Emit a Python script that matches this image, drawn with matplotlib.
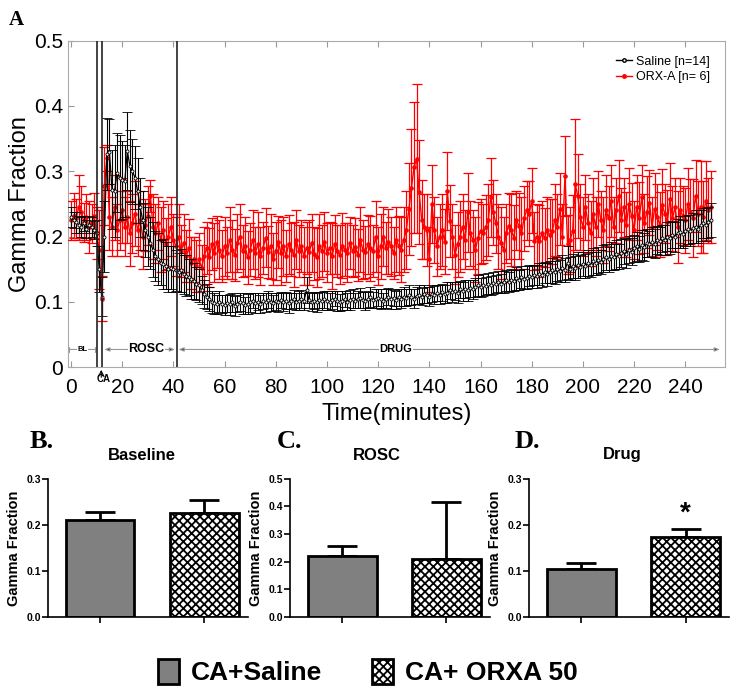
import numpy as np
import matplotlib
matplotlib.use('Agg')
import matplotlib.pyplot as plt
from matplotlib.patches import Patch
from matplotlib.lines import Line2D

plt.rcParams['font.family'] = ['Liberation Sans', 'DejaVu Sans']
plt.rcParams['hatch.linewidth'] = 1.3

# ---- panel A: gamma fraction per minute (0..250) ----
saline_mean = [
    0.230, 0.225, 0.222, 0.218, 0.215, 0.220, 0.212, 0.218, 0.215, 0.210,
    0.205, 0.150, 0.108, 0.200, 0.326, 0.330, 0.272, 0.270, 0.298, 0.290,
    0.287, 0.285, 0.331, 0.308, 0.300, 0.290, 0.270, 0.245, 0.225, 0.210,
    0.200, 0.190, 0.180, 0.170, 0.165, 0.160, 0.158, 0.155, 0.150, 0.152,
    0.150, 0.148, 0.145, 0.148, 0.142, 0.140, 0.138, 0.135, 0.132, 0.128,
    0.125, 0.118, 0.112, 0.108, 0.104, 0.100, 0.098, 0.096, 0.100, 0.097,
    0.095, 0.098, 0.096, 0.099, 0.094, 0.097, 0.100, 0.098, 0.095, 0.097,
    0.099, 0.102, 0.098, 0.100, 0.097, 0.101, 0.099, 0.103, 0.100, 0.098,
    0.101, 0.099, 0.103, 0.100, 0.102, 0.098, 0.101, 0.104, 0.100, 0.102,
    0.104, 0.101, 0.118, 0.103, 0.100, 0.102, 0.099, 0.103, 0.101, 0.104,
    0.102, 0.100, 0.103, 0.105, 0.101, 0.099, 0.102, 0.104, 0.100, 0.103,
    0.105, 0.102, 0.104, 0.106, 0.103, 0.101, 0.104, 0.107, 0.103, 0.105,
    0.106, 0.104, 0.102, 0.105, 0.108, 0.104, 0.106, 0.103, 0.107, 0.105,
    0.108, 0.106, 0.110, 0.107, 0.105, 0.109, 0.111, 0.108, 0.112, 0.110,
    0.108, 0.112, 0.110, 0.113, 0.111, 0.115, 0.112, 0.114, 0.118, 0.115,
    0.117, 0.114, 0.119, 0.116, 0.120, 0.118, 0.121, 0.119, 0.122, 0.125,
    0.122, 0.126, 0.124, 0.128, 0.125, 0.129, 0.127, 0.131, 0.128, 0.130,
    0.133, 0.130, 0.134, 0.132, 0.136, 0.133, 0.138, 0.135, 0.137, 0.140,
    0.138, 0.141, 0.139, 0.143, 0.141, 0.145, 0.142, 0.146, 0.148, 0.145,
    0.150, 0.147, 0.152, 0.149, 0.160, 0.151, 0.155, 0.152, 0.157, 0.154,
    0.158, 0.155, 0.160, 0.157, 0.162, 0.159, 0.164, 0.161, 0.166, 0.168,
    0.165, 0.170, 0.168, 0.173, 0.170, 0.175, 0.178, 0.174, 0.180, 0.177,
    0.182, 0.185, 0.181, 0.187, 0.184, 0.190, 0.188, 0.192, 0.189, 0.195,
    0.193, 0.197, 0.195, 0.200, 0.198, 0.203, 0.200, 0.205, 0.207, 0.204,
    0.208, 0.211, 0.209, 0.213, 0.215, 0.212, 0.217, 0.220, 0.218, 0.222,
    0.225]
saline_err = [
    .015, .012, .016, .013, .015, .012, .014, .013, .015, .014,
    .020, .035, .030, .055, .055, .050, .060, .070, .060, .065,
    .060, .055, .060, .055, .050, .048, .050, .045, .045, .042,
    .045, .040, .042, .038, .040, .035, .038, .036, .035, .033,
    .035, .032, .030, .033, .030, .031, .028, .030, .027, .025,
    .026, .022, .021, .019, .018, .017, .016, .015, .016, .014,
    .015, .013, .016, .014, .015, .013, .014, .016, .013, .015,
    .014, .012, .015, .013, .014, .012, .015, .013, .014, .012,
    .013, .015, .012, .014, .013, .015, .012, .014, .013, .015,
    .014, .013, .020, .012, .014, .013, .015, .012, .014, .013,
    .015, .013, .014, .012, .015, .013, .014, .012, .013, .015,
    .014, .012, .013, .015, .012, .014, .013, .015, .012, .014,
    .013, .015, .012, .014, .013, .015, .012, .014, .013, .015,
    .014, .013, .015, .012, .014, .013, .015, .013, .014, .012,
    .015, .013, .014, .012, .015, .013, .014, .016, .013, .015,
    .014, .016, .013, .015, .014, .016, .013, .015, .014, .016,
    .015, .017, .014, .016, .015, .017, .014, .016, .015, .017,
    .016, .015, .017, .016, .018, .015, .017, .016, .018, .016,
    .017, .016, .018, .017, .019, .016, .018, .017, .019, .017,
    .018, .017, .019, .018, .025, .017, .019, .018, .020, .018,
    .019, .018, .020, .019, .021, .018, .020, .019, .021, .020,
    .019, .021, .020, .022, .019, .021, .020, .022, .021, .020,
    .021, .022, .020, .023, .021, .022, .020, .023, .022, .021,
    .022, .021, .023, .022, .024, .021, .023, .022, .024, .022,
    .023, .022, .024, .023, .025, .022, .024, .023, .025, .024,
    .026]

orxa_mean = [
    0.225, 0.232, 0.228, 0.245, 0.238, 0.222, 0.230, 0.215, 0.220, 0.232,
    0.205, 0.180, 0.105, 0.277, 0.320, 0.230, 0.215, 0.245, 0.210, 0.225,
    0.240, 0.215, 0.230, 0.205, 0.220, 0.235, 0.210, 0.225, 0.200, 0.218,
    0.232, 0.262, 0.215, 0.205, 0.220, 0.195, 0.210, 0.188, 0.200, 0.215,
    0.195, 0.185, 0.200, 0.178, 0.190, 0.170, 0.182, 0.160, 0.165, 0.155,
    0.165, 0.152, 0.170, 0.182, 0.168, 0.188, 0.175, 0.192, 0.180, 0.170,
    0.185, 0.175, 0.195, 0.180, 0.172, 0.190, 0.200, 0.178, 0.185, 0.168,
    0.180, 0.195, 0.175, 0.188, 0.170, 0.182, 0.198, 0.176, 0.185, 0.165,
    0.178, 0.192, 0.175, 0.185, 0.170, 0.188, 0.180, 0.172, 0.195, 0.178,
    0.185, 0.170, 0.182, 0.176, 0.190, 0.174, 0.168, 0.185, 0.178, 0.192,
    0.175, 0.182, 0.170, 0.188, 0.178, 0.172, 0.186, 0.180, 0.175, 0.190,
    0.178, 0.184, 0.172, 0.195, 0.180, 0.176, 0.188, 0.182, 0.178, 0.200,
    0.170, 0.185, 0.200, 0.182, 0.192, 0.185, 0.175, 0.195, 0.186, 0.180,
    0.195, 0.210, 0.242, 0.275, 0.306, 0.319, 0.268, 0.226, 0.215, 0.210,
    0.165, 0.250, 0.210, 0.185, 0.200, 0.210, 0.192, 0.270, 0.224, 0.200,
    0.172, 0.188, 0.200, 0.215, 0.195, 0.237, 0.205, 0.195, 0.180, 0.198,
    0.208, 0.205, 0.214, 0.225, 0.260, 0.237, 0.220, 0.200, 0.190, 0.180,
    0.205, 0.216, 0.210, 0.198, 0.225, 0.216, 0.205, 0.228, 0.240, 0.235,
    0.255, 0.193, 0.200, 0.193, 0.205, 0.198, 0.210, 0.202, 0.208, 0.225,
    0.215, 0.242, 0.200, 0.293, 0.188, 0.195, 0.208, 0.280, 0.262, 0.230,
    0.215, 0.245, 0.220, 0.205, 0.235, 0.215, 0.250, 0.225, 0.210, 0.240,
    0.228, 0.255, 0.215, 0.240, 0.262, 0.225, 0.245, 0.218, 0.250, 0.232,
    0.210, 0.245, 0.228, 0.260, 0.220, 0.238, 0.252, 0.215, 0.242, 0.230,
    0.218, 0.248, 0.235, 0.222, 0.258, 0.228, 0.245, 0.215, 0.240, 0.232,
    0.225, 0.250, 0.238, 0.228, 0.262, 0.235, 0.245, 0.230, 0.255, 0.240,
    0.245]
orxa_err = [
    .030, .035, .030, .050, .040, .030, .035, .040, .030, .035,
    .040, .060, .035, .060, .020, .050, .045, .050, .040, .045,
    .050, .045, .040, .050, .045, .050, .040, .045, .050, .040,
    .045, .025, .050, .045, .040, .050, .045, .040, .050, .045,
    .040, .045, .050, .040, .045, .040, .045, .040, .035, .040,
    .040, .035, .045, .040, .045, .040, .045, .040, .045, .040,
    .045, .040, .050, .045, .040, .045, .050, .040, .045, .040,
    .040, .045, .040, .050, .045, .040, .045, .040, .050, .040,
    .045, .040, .050, .045, .040, .045, .040, .050, .045, .040,
    .040, .045, .040, .050, .045, .040, .045, .050, .040, .045,
    .045, .040, .050, .045, .040, .045, .050, .040, .045, .040,
    .040, .045, .040, .050, .045, .040, .045, .050, .040, .055,
    .045, .050, .045, .040, .050, .045, .040, .050, .045, .050,
    .050, .060, .070, .090, .100, .114, .080, .060, .050, .055,
    .050, .060, .050, .045, .050, .055, .050, .060, .055, .050,
    .045, .050, .055, .050, .045, .060, .050, .045, .050, .055,
    .050, .045, .050, .055, .060, .050, .045, .050, .055, .050,
    .045, .050, .055, .050, .045, .050, .055, .050, .045, .050,
    .050, .045, .050, .055, .050, .045, .050, .055, .050, .055,
    .050, .055, .050, .061, .045, .050, .055, .100, .065, .050,
    .045, .050, .045, .050, .055, .045, .050, .045, .050, .055,
    .050, .055, .045, .050, .055, .050, .045, .050, .055, .050,
    .045, .050, .055, .050, .045, .055, .050, .045, .055, .050,
    .050, .055, .045, .050, .055, .050, .045, .055, .050, .045,
    .050, .055, .050, .060, .055, .050, .070, .055, .060, .050,
    .055]

event_lines = [10.2, 12.2, 41.3]

# ---- panels B-D: bar summary ----
groups = ['CA+Saline', 'CA+ ORXA 50']
panel_titles = ['Baseline', 'ROSC', 'Drug']
panel_letters = ['B.', 'C.', 'D.']
bar_means = [[0.210, 0.225], [0.222, 0.208], [0.105, 0.174]]
bar_sem = [[0.018, 0.028], [0.035, 0.207], [0.012, 0.018]]
bar_ymax = [0.3, 0.5, 0.3]


def draw_timecourse(fig):
    ax = fig.add_axes([0.092, 0.468, 0.893, 0.473])
    t_s = np.arange(len(saline_mean))
    t_o = np.arange(len(orxa_mean))
    ax.errorbar(t_o, orxa_mean, yerr=orxa_err, color='red', ecolor='red',
                lw=1.0, elinewidth=0.9, capsize=3.5, capthick=0.9,
                marker='o', markersize=2.3, zorder=3)
    ax.errorbar(t_s, saline_mean, yerr=saline_err, color='black', ecolor='black',
                lw=0.9, elinewidth=0.8, capsize=3.5, capthick=0.8,
                marker='o', markersize=2.2, mfc='white', mec='black', mew=0.6,
                zorder=4)
    for xv in event_lines:
        ax.axvline(xv, color='#222222', lw=1.2, zorder=5)

    ax.set_xlim(-1.3, 255.5)
    ax.set_ylim(0, 0.5)
    ax.set_xticks(np.arange(0, 241, 20))
    ax.set_yticks([0, 0.1, 0.2, 0.3, 0.4, 0.5])
    ax.set_yticklabels(['0', '0.1', '0.2', '0.3', '0.4', '0.5'])
    ax.tick_params(direction='in', top=True, colors='#999999', labelcolor='black',
                   labelsize=15, length=4, width=0.8)
    ax.tick_params(axis='x', pad=8)
    for sp in ax.spines.values():
        sp.set_color('#aaaaaa')
    ax.set_xlabel('Time(minutes)', fontsize=17, labelpad=4)
    ax.set_ylabel('Gamma Fraction', fontsize=17, labelpad=2)

    # phase annotations
    yb = 0.027
    ap = dict(color='#999999', lw=0.8, shrinkA=0, shrinkB=0)
    ax.annotate('', xy=(9.5, yb), xytext=(-0.8, yb),
                arrowprops=dict(arrowstyle='|-|,widthA=0.2,widthB=0.2', **ap))
    ax.text(4.5, yb, 'BL', fontsize=5.5, fontweight='bold', ha='center', va='center',
            bbox=dict(fc='white', ec='none', pad=0.5))
    ax.annotate('', xy=(40.6, yb), xytext=(13, yb),
                arrowprops=dict(arrowstyle='<|-|>,head_length=0.3,head_width=0.12', fc='#333333', **ap))
    ax.text(29.5, yb, 'ROSC', fontsize=9, fontweight='bold', ha='center', va='center',
            bbox=dict(fc='white', ec='none', pad=0.5))
    ax.annotate('', xy=(253.5, yb), xytext=(42, yb),
                arrowprops=dict(arrowstyle='<|-|>,head_length=0.3,head_width=0.12', fc='#333333', **ap))
    ax.text(127, yb, 'DRUG', fontsize=8, fontweight='bold', ha='center', va='center',
            bbox=dict(fc='white', ec='none', pad=0.5))
    ax.annotate('', xy=(11.8, 0.0), xytext=(11.8, -0.02), annotation_clip=False,
                arrowprops=dict(arrowstyle='->', color='black', lw=0.8))
    ax.text(12.8, -0.018, 'CA', fontsize=7, fontweight='bold', ha='center', va='center',
            clip_on=False)

    handles = [Line2D([], [], color='black', marker='o', markersize=2.5, mfc='white',
                      mec='black', lw=1.0),
               Line2D([], [], color='red', marker='o', markersize=2.5, lw=1.0)]
    ax.legend(handles, ['Saline [n=14]', 'ORX-A [n= 6]'], loc='upper right', fontsize=9,
              frameon=False, handlelength=1.3, handletextpad=0.3, borderaxespad=0.8,
              labelspacing=0.3)
    fig.text(0.012, 0.985, 'A', fontsize=15, fontweight='bold', va='top',
             family=['Liberation Serif', 'DejaVu Serif'])


def draw_bars(fig):
    lefts = [0.065, 0.394, 0.719]
    title_x = [142, 377, 622]
    letter_x = [30, 277, 515]
    x = np.arange(len(groups))
    for i in range(3):
        ax = fig.add_axes([lefts[i], 0.106, 0.272, 0.2])
        bars = ax.bar(x, bar_means[i], width=0.66, color=['#808080', 'white'],
                      edgecolor='black', linewidth=2, zorder=2)
        bars[1].set_hatch('xxxx')
        ax.errorbar(x, bar_means[i], yerr=[[0, 0], bar_sem[i]], fmt='none',
                    ecolor='black', elinewidth=2, capsize=10.5, capthick=2, zorder=1)
        ax.set_xlim(-0.5, 1.42)
        ax.set_ylim(0, bar_ymax[i])
        ticks = np.arange(0, bar_ymax[i] + 0.001, 0.1)
        ax.set_yticks(ticks)
        ax.set_yticklabels(['%.1f' % v for v in ticks], fontsize=7.5, fontweight='bold')
        ax.set_xticks(x)
        ax.set_xticklabels([])
        ax.tick_params(length=4, width=1.2, pad=1)
        for s in ['top', 'right']:
            ax.spines[s].set_visible(False)
        for s in ['left', 'bottom']:
            ax.spines[s].set_linewidth(1.2)
        ax.set_ylabel('Gamma Fraction', fontsize=10.5, fontweight='bold', labelpad=4)
        if i == 2:
            ax.text(1, bar_means[i][1] + bar_sem[i][1] + 0.004, '*', fontsize=20,
                    ha='center', va='bottom', fontweight='bold')
        fig.text(title_x[i] / 736, 1 - 455 / 690, panel_titles[i], fontsize=12,
                 fontweight='bold', ha='center', va='center')
        fig.text(letter_x[i] / 736, 1 - 441 / 690, panel_letters[i], fontsize=19,
                 fontweight='bold', ha='left', va='center',
                 family=['Liberation Serif', 'DejaVu Serif'])

    handles = [Patch(fc='#808080', ec='black', lw=2),
               Patch(fc='white', ec='black', lw=2, hatch='xxxx')]
    fig.legend(handles, groups, loc='center', bbox_to_anchor=(0.5, 1 - 672 / 690),
               ncol=2, frameon=False, handlelength=0.8, handleheight=1.1,
               handletextpad=0.45, columnspacing=1.9,
               prop={'size': 19, 'weight': 'bold'})


def main():
    fig = plt.figure(figsize=(7.36, 6.9), dpi=100)
    draw_timecourse(fig)
    draw_bars(fig)
    fig.savefig('out.png', dpi=100)


if __name__ == "__main__":
    main()
